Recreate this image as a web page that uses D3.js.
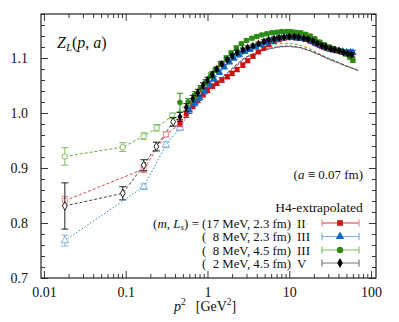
<!DOCTYPE html>
<html>
<head>
<meta charset="utf-8">
<script src="https://cdn.jsdelivr.net/npm/d3@7"></script>
<style>
  body { margin: 0; background: #fff; }
  svg { font-family: "Liberation Serif", "DejaVu Serif", serif; }
</style>
</head>
<body>
<script>
// open (raw) points at small p^2: [p2, Z, err]
var redOpen   = [[0.018,0.8405,0.008],[0.166,0.898,0.006],[0.31,0.961,0.005]];
var blueOpen  = [[0.018,0.768,0.010],[0.166,0.866,0.005],[0.31,0.942,0.005],[0.46,0.973,0.005]];
var greenOpen = [[0.018,0.921,0.016],[0.092,0.938,0.008],[0.166,0.958,0.006],[0.239,0.973,0.006],[0.37,0.995,0.005]];
var blackOpen = [[0.018,0.831,0.042],[0.092,0.854,0.012],[0.166,0.905,0.010],[0.237,0.939,0.008],[0.38,0.984,0.008]];

// H4-extrapolated points: [p2, Z, err]
var redH4 = [[0.46,0.982,0.006],[0.55,0.998,0.006],[0.66,1.013,0.005],[0.76,1.024,0.005],[0.88,1.034,0.005],
  [1.0,1.042,0.005],[1.15,1.049,0.004],[1.3,1.054,0.004],[1.5,1.060,0.004],[1.75,1.066,0.004],[2.0,1.072,0.004],
  [2.3,1.079,0.004],[2.7,1.087,0.004],[3.1,1.095,0.003],[3.6,1.103,0.003],[4.2,1.111,0.003],[4.9,1.118,0.003],
  [5.6,1.124,0.003],[6.5,1.130,0.003],[7.5,1.133,0.003],[8.6,1.136,0.003],[10,1.137,0.003],[11.5,1.137,0.003],
  [13,1.136,0.003],[15,1.135,0.003],[17,1.133,0.003],[19.5,1.129,0.003],[22,1.125,0.003],[25,1.121,0.003],
  [28,1.118,0.003],[32,1.116,0.003],[36,1.114,0.003],[41,1.112,0.003],[46,1.110,0.003],[52,1.108,0.004],[58,1.107,0.004]];
var blueH4 = [[0.6,1.005,0.006],[0.7,1.018,0.005],[0.8,1.028,0.005],[0.92,1.040,0.005],[1.05,1.052,0.005],
  [1.2,1.062,0.004],[1.4,1.074,0.004],[1.6,1.084,0.004],[1.85,1.093,0.004],[2.1,1.100,0.004],[2.45,1.106,0.004],
  [2.85,1.111,0.003],[3.3,1.115,0.003],[3.9,1.120,0.003],[4.5,1.124,0.003],[5.2,1.128,0.003],[6,1.131,0.003],
  [7,1.134,0.003],[8,1.136,0.003],[9.3,1.137,0.003],[10.7,1.137,0.003],[12.3,1.136,0.003],[14,1.135,0.003],
  [16,1.133,0.003],[18.5,1.130,0.003],[21,1.126,0.003],[24,1.122,0.003],[27,1.119,0.003],[31,1.116,0.003],
  [35,1.114,0.003],[40,1.113,0.003],[45,1.112,0.003],[50,1.111,0.003],[56,1.111,0.004],[60,1.110,0.004]];
var greenH4 = [[0.46,1.019,0.017],[0.58,1.020,0.006],[0.7,1.033,0.006],[0.82,1.045,0.005],[0.95,1.056,0.005],
  [1.1,1.068,0.005],[1.25,1.078,0.004],[1.45,1.090,0.004],[1.7,1.100,0.004],[1.95,1.109,0.004],[2.25,1.118,0.004],
  [2.6,1.126,0.003],[3.0,1.132,0.003],[3.5,1.136,0.003],[4.0,1.139,0.003],[4.6,1.142,0.003],[5.3,1.144,0.003],
  [6.1,1.146,0.003],[7,1.147,0.003],[8,1.148,0.003],[9.2,1.148,0.003],[10.5,1.148,0.003],[12,1.147,0.003],
  [13.8,1.146,0.003],[15.8,1.143,0.003],[18,1.140,0.003],[20.5,1.135,0.003],[23.5,1.129,0.003],[27,1.124,0.003],
  [31,1.120,0.003],[35,1.117,0.003],[40,1.114,0.003],[45,1.111,0.003],[50,1.107,0.003],[55,1.102,0.004],[60,1.096,0.004]];
var blackH4 = [[0.46,0.993,0.008],[0.55,1.010,0.007],[0.66,1.026,0.006],[0.76,1.037,0.006],[0.88,1.050,0.005],
  [1.0,1.060,0.005],[1.15,1.070,0.005],[1.3,1.080,0.004],[1.5,1.089,0.004],[1.75,1.097,0.004],[2.0,1.104,0.004],
  [2.3,1.110,0.004],[2.7,1.115,0.003],[3.1,1.119,0.003],[3.6,1.122,0.003],[4.2,1.126,0.003],[4.9,1.130,0.003],
  [5.6,1.133,0.003],[6.5,1.135,0.003],[7.5,1.137,0.003],[8.6,1.138,0.003],[10,1.139,0.003],[11.5,1.139,0.003],
  [13,1.138,0.003],[15,1.136,0.003],[17,1.134,0.003],[19.5,1.131,0.003],[22,1.127,0.003],[25,1.123,0.003],
  [28,1.120,0.003],[32,1.117,0.003],[36,1.115,0.003],[41,1.113,0.003],[46,1.110,0.003],[52,1.108,0.003],[58,1.106,0.004]];

// dashed curves (raw data): [p2, Z]
var redRaw = [[0.018,0.8405],[0.166,0.898],[0.31,0.961],[0.46,0.980],[0.6,1.000],[0.8,1.020],[1.0,1.035],[1.4,1.056],
  [2,1.078],[2.8,1.098],[4,1.110],[5.5,1.116],[7.5,1.120],[10,1.121],[13,1.119],[17,1.114],[23,1.106],[30,1.098],
  [41,1.090],[55,1.083],[70,1.077]];
var blueRaw = [[0.018,0.768],[0.166,0.866],[0.31,0.942],[0.46,0.973],[0.6,1.000],[0.8,1.022],[1.0,1.038],[1.4,1.060],
  [2,1.080],[2.8,1.099],[4,1.110],[5.5,1.116],[7.5,1.120],[10,1.121],[13,1.119],[17,1.114],[23,1.106],[30,1.098],
  [41,1.090],[55,1.083],[70,1.078]];
var greenRaw = [[0.018,0.921],[0.092,0.938],[0.166,0.958],[0.239,0.973],[0.37,0.995],[0.46,1.005],[0.6,1.020],
  [0.8,1.040],[1.0,1.055],[1.4,1.075],[2,1.095],[2.8,1.108],[4,1.117],[5.5,1.122],[7.5,1.126],[10,1.127],
  [13,1.124],[17,1.118],[23,1.108],[30,1.100],[41,1.091],[55,1.083],[70,1.078]];
var blackRaw = [[0.018,0.831],[0.092,0.854],[0.166,0.905],[0.237,0.939],[0.38,0.984],[0.5,0.995],[0.7,1.020],
  [1.0,1.040],[1.4,1.060],[2,1.081],[2.8,1.100],[4,1.111],[5.5,1.117],[7.5,1.121],[10,1.122],[13,1.120],
  [17,1.115],[23,1.107],[30,1.099],[41,1.091],[55,1.083],[70,1.077]];

var xMajor = [0.01, 0.1, 1, 10, 100];
var xMajorLabels = ["0.01", "0.1", "1", "10", "100"];
var yMajor = [0.7, 0.8, 0.9, 1.0, 1.1];
var yMajorLabels = ["0.7", "0.8", "0.9", "1.0", "1.1"];

var legendMasses = ["(17 MeV, 2.3 fm)", "(\u20078 MeV, 2.3 fm)", "(\u20078 MeV, 4.5 fm)", "(\u20072 MeV, 4.5 fm)"];
var legendRuns = ["II", "III", "III", "V"];

var W = 399, H = 322;
var m = {left: 41, right: 376, top: 14, bottom: 278};

var svg = d3.select("body").append("svg").attr("width", W).attr("height", H);

var x = d3.scaleLog().domain([0.0092, 115]).range([m.left, m.right]);
var y = d3.scaleLinear().domain([0.7, 1.18]).range([m.bottom, m.top]);

// minor ticks
var xMinor = [];
[0.01, 0.1, 1, 10].forEach(function(d) { for (var k = 2; k <= 9; k++) xMinor.push(d * k); });
var yMinor = d3.range(0.72, 1.181, 0.02).filter(function(v) { return Math.abs(v * 10 - Math.round(v * 10)) > 0.01; });

function tickAxis(axisFn, scale, vals, size, fmt) {
  return axisFn(scale).tickValues(vals).tickSize(size).tickSizeOuter(0).tickFormat(fmt);
}
function styleAxis(g) {
  g.select(".domain").remove();
  g.selectAll("line").attr("stroke", "#222").attr("stroke-width", 0.9);
  g.selectAll("text").attr("font-family", "Liberation Serif").attr("font-size", 14).attr("fill", "#111");
}

svg.append("g").attr("transform", "translate(0," + m.bottom + ")")
  .call(tickAxis(d3.axisBottom, x, xMajor, -7, function(d, i) { return xMajorLabels[i]; }))
  .call(styleAxis).selectAll("text").attr("dy", "0.71em").attr("y", 9);
svg.append("g").attr("transform", "translate(0," + m.bottom + ")")
  .call(tickAxis(d3.axisBottom, x, xMinor, -4, "")).call(styleAxis);
svg.append("g").attr("transform", "translate(0," + m.top + ")")
  .call(tickAxis(d3.axisTop, x, xMajor, -7, "")).call(styleAxis);
svg.append("g").attr("transform", "translate(0," + m.top + ")")
  .call(tickAxis(d3.axisTop, x, xMinor, -4, "")).call(styleAxis);

svg.append("g").attr("transform", "translate(" + m.left + ",0)")
  .call(tickAxis(d3.axisLeft, y, yMajor, -7, function(d, i) { return yMajorLabels[i]; }))
  .call(styleAxis).selectAll("text").attr("x", -13);
svg.append("g").attr("transform", "translate(" + m.left + ",0)")
  .call(tickAxis(d3.axisLeft, y, yMinor, -4, "")).call(styleAxis);
svg.append("g").attr("transform", "translate(" + m.right + ",0)")
  .call(tickAxis(d3.axisRight, y, yMajor, -7, "")).call(styleAxis);
svg.append("g").attr("transform", "translate(" + m.right + ",0)")
  .call(tickAxis(d3.axisRight, y, yMinor, -4, "")).call(styleAxis);

svg.append("rect").attr("x", m.left).attr("y", m.top).attr("width", m.right - m.left).attr("height", m.bottom - m.top)
  .attr("fill", "none").attr("stroke", "#222").attr("stroke-width", 1.2);

var series = [
  {open: redOpen,   h4: redH4,   raw: redRaw,   color: "#cc1111", light: "#ee8888", dashc: "#e04545", dash: "3,2", sym: d3.symbolSquare,   size: 24},
  {open: blueOpen,  h4: blueH4,  raw: blueRaw,  color: "#1166cc", light: "#7fb2e5", dashc: "#3f8ad6", dash: "1.6,1.8", sym: d3.symbolTriangle, size: 24},
  {open: greenOpen, h4: greenH4, raw: greenRaw, color: "#2e8b12", light: "#80c060", dashc: "#62ad45", dash: "3,2", sym: d3.symbolCircle,   size: 24},
  {open: blackOpen, h4: blackH4, raw: blackRaw, color: "#000000", light: "#777777", dashc: "#444444", dash: "3,2", sym: d3.symbolDiamond,  size: 20}
];

var line = d3.line().x(function(d) { return x(d[0]); }).y(function(d) { return y(d[1]); });

var plot = svg.append("g");

// dashed raw curves
series.forEach(function(s) {
  plot.append("path").attr("d", line(s.raw)).attr("fill", "none")
    .attr("stroke", s.dashc).attr("stroke-width", 1)
    .attr("stroke-dasharray", s.dash);
});

function errorBars(g, data, color, cap) {
  var e = g.selectAll(null).data(data).enter().append("g").attr("stroke", color).attr("stroke-width", 1);
  e.append("line").attr("x1", function(d) { return x(d[0]); }).attr("x2", function(d) { return x(d[0]); })
    .attr("y1", function(d) { return y(d[1] - d[2]); }).attr("y2", function(d) { return y(d[1] + d[2]); });
  [-1, 1].forEach(function(sg) {
    e.append("line").attr("x1", function(d) { return x(d[0]) - cap; }).attr("x2", function(d) { return x(d[0]) + cap; })
      .attr("y1", function(d) { return y(d[1] + sg * d[2]); }).attr("y2", function(d) { return y(d[1] + sg * d[2]); });
  });
}

// open points
series.forEach(function(s) {
  var g = plot.append("g");
  errorBars(g, s.open, s.color === "#000000" ? "#222" : s.light, 3.5);
  g.selectAll(null).data(s.open).enter().append("path")
    .attr("d", d3.symbol().type(s.sym).size(s.size))
    .attr("transform", function(d) { return "translate(" + x(d[0]) + "," + y(d[1]) + ")"; })
    .attr("fill", "#fff").attr("stroke", s.color === "#000000" ? "#222" : s.light).attr("stroke-width", 1);
});

// H4-extrapolated points
series.forEach(function(s) {
  var g = plot.append("g");
  errorBars(g, s.h4, s.color === "#000000" ? "#222" : s.color, 3);
  g.selectAll(null).data(s.h4).enter().append("path")
    .attr("d", d3.symbol().type(s.sym).size(s.size))
    .attr("transform", function(d) { return "translate(" + x(d[0]) + "," + y(d[1]) + ")"; })
    .attr("fill", s.color);
});

// title Z_L(p,a)
var t = svg.append("text").attr("x", 57).attr("y", 48).attr("font-size", 16).attr("fill", "#111");
t.append("tspan").attr("font-style", "italic").text("Z");
t.append("tspan").attr("font-style", "italic").attr("font-size", 11).attr("dy", 3).text("L");
t.append("tspan").attr("dy", -3).text("(");
t.append("tspan").attr("font-style", "italic").text("p");
t.append("tspan").text(", ");
t.append("tspan").attr("font-style", "italic").text("a");
t.append("tspan").text(")");

var ta = svg.append("text").attr("x", 363).attr("y", 179).attr("text-anchor", "end").attr("font-size", 13).attr("fill", "#111");
ta.append("tspan").text("(");
ta.append("tspan").attr("font-style", "italic").text("a");
ta.append("tspan").text(" \u2261 0.07 fm)");

svg.append("text").attr("x", 319).attr("y", 212).attr("text-anchor", "middle").attr("font-size", 13.5)
  .attr("fill", "#111").text("H4-extrapolated");

// legend
var rowY = [223, 236.5, 250, 263];
var massText = [];
series.forEach(function(s, i) {
  var yy = rowY[i];
  massText.push(svg.append("text").attr("x", 291).attr("y", yy + 4.5).attr("text-anchor", "end").attr("font-size", 12.8)
    .attr("fill", "#111").text(legendMasses[i]));
  svg.append("text").attr("x", 297).attr("y", yy + 4.5).attr("font-size", 13).attr("fill", "#111").text(legendRuns[i]);
  var lc = i === 0 ? "#d33" : (i === 3 ? "#777" : s.light);
  svg.append("line").attr("x1", 322).attr("x2", 359).attr("y1", yy).attr("y2", yy).attr("stroke", lc).attr("stroke-width", 1);
  [322, 359].forEach(function(cx) {
    svg.append("line").attr("x1", cx).attr("x2", cx).attr("y1", yy - 3.5).attr("y2", yy + 3.5)
      .attr("stroke", i === 3 ? "#777" : s.light).attr("stroke-width", 1.2);
  });
  svg.append("path").attr("d", d3.symbol().type(s.sym).size(s.size + 8))
    .attr("transform", "translate(340," + yy + ")").attr("fill", s.color);
});

var massStart = 291 - massText[0].node().getComputedTextLength();
var tp = svg.append("text").attr("x", massStart - 3).attr("y", rowY[0] + 4.5).attr("text-anchor", "end")
  .attr("font-size", 13).attr("fill", "#111");
tp.append("tspan").text("(");
tp.append("tspan").attr("font-style", "italic").text("m");
tp.append("tspan").text(", ");
tp.append("tspan").attr("font-style", "italic").text("L");
tp.append("tspan").attr("font-style", "italic").attr("font-size", 9).attr("dy", 2.5).text("s");
tp.append("tspan").attr("dy", -2.5).text(") =");

// x axis title
var tx = svg.append("text").attr("x", 174).attr("y", 311).attr("font-size", 14).attr("fill", "#111");
tx.append("tspan").attr("font-style", "italic").text("p");
tx.append("tspan").attr("font-size", 9.5).attr("dy", -6).text("2");
tx.append("tspan").attr("dy", 6).attr("dx", 10).text("[GeV");
tx.append("tspan").attr("font-size", 9.5).attr("dy", -6).text("2");
tx.append("tspan").attr("dy", 6).text("]");
</script>
</body>
</html>
